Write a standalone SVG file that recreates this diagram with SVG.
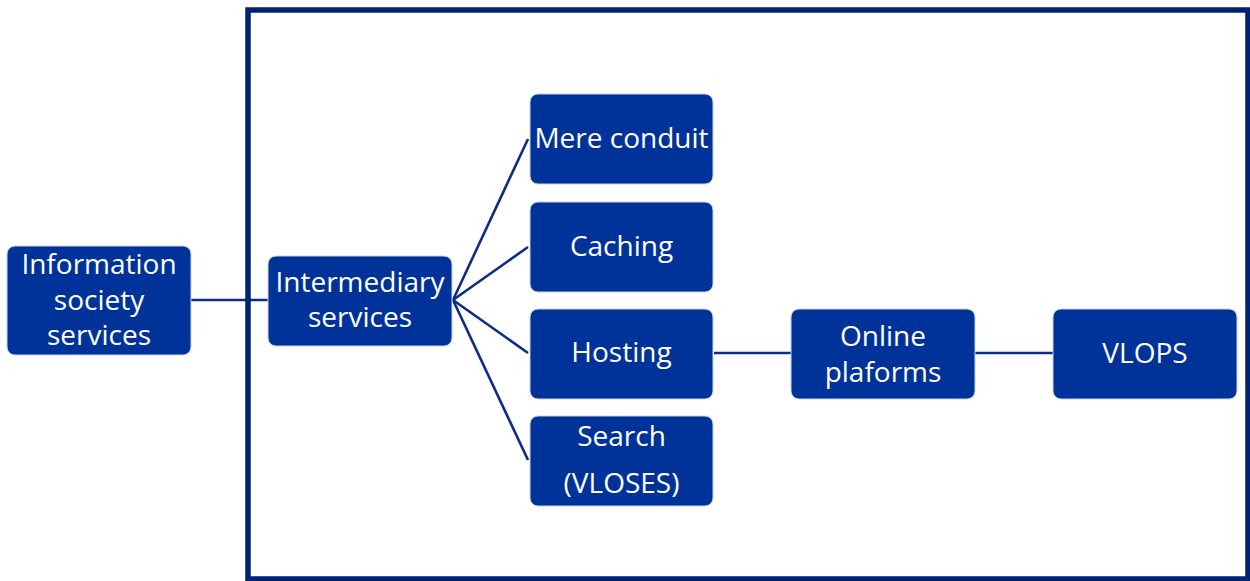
<svg xmlns="http://www.w3.org/2000/svg" width="1250" height="581" viewBox="0 0 1250 581">
<style>
.box{fill:#003399;stroke:#c9d3ea;stroke-width:1}
.lbl{font-family:"Open Sans","Liberation Sans",sans-serif;font-size:28px;fill:#ffffff;text-anchor:middle}
.con{stroke:#0d2c84;stroke-width:2.6;fill:none}
</style>
<rect width="1250" height="581" fill="#ffffff"/>
<g id="connectors">
<line class="con" x1="191" y1="300" x2="268" y2="300"/>
<line class="con" x1="453" y1="300" x2="528" y2="139"/>
<line class="con" x1="453" y1="300" x2="528" y2="247"/>
<line class="con" x1="453" y1="300" x2="528" y2="353"/>
<line class="con" x1="453" y1="300" x2="528" y2="460"/>
<line class="con" x1="714" y1="353" x2="791" y2="353"/>
<line class="con" x1="975" y1="353" x2="1053" y2="353"/>
</g>
<rect id="frame" x="248" y="10" width="1000" height="569" fill="none" stroke="#002270" stroke-width="5.5"/>
<g id="info">
<rect class="box" x="7" y="246" width="184" height="109" rx="8"/>
<text class="lbl" x="99" y="274">Information</text>
<text class="lbl" x="99" y="310">society</text>
<text class="lbl" x="99" y="345">services</text>
</g>
<g id="intermediary">
<rect class="box" x="268" y="256" width="184" height="90" rx="8"/>
<text class="lbl" x="360" y="292">Intermediary</text>
<text class="lbl" x="360" y="327">services</text>
</g>
<g id="mere">
<rect class="box" x="530" y="94" width="183" height="90" rx="8"/>
<text class="lbl" x="621.5" y="148">Mere conduit</text>
</g>
<g id="caching">
<rect class="box" x="530" y="202" width="183" height="90" rx="8"/>
<text class="lbl" x="621.5" y="256">Caching</text>
</g>
<g id="hosting">
<rect class="box" x="530" y="309" width="183" height="90" rx="8"/>
<text class="lbl" x="621.5" y="362">Hosting</text>
</g>
<g id="search">
<rect class="box" x="530" y="416" width="183" height="90" rx="8"/>
<text class="lbl" x="621.5" y="446">Search</text>
<text class="lbl" x="621.5" y="493">(VLOSES)</text>
</g>
<g id="online">
<rect class="box" x="791" y="309" width="184" height="90" rx="8"/>
<text class="lbl" x="883" y="346">Online</text>
<text class="lbl" x="883" y="382">plaforms</text>
</g>
<g id="vlops">
<rect class="box" x="1053" y="309" width="184" height="90" rx="8"/>
<text class="lbl" x="1145" y="363">VLOPS</text>
</g>
</svg>
